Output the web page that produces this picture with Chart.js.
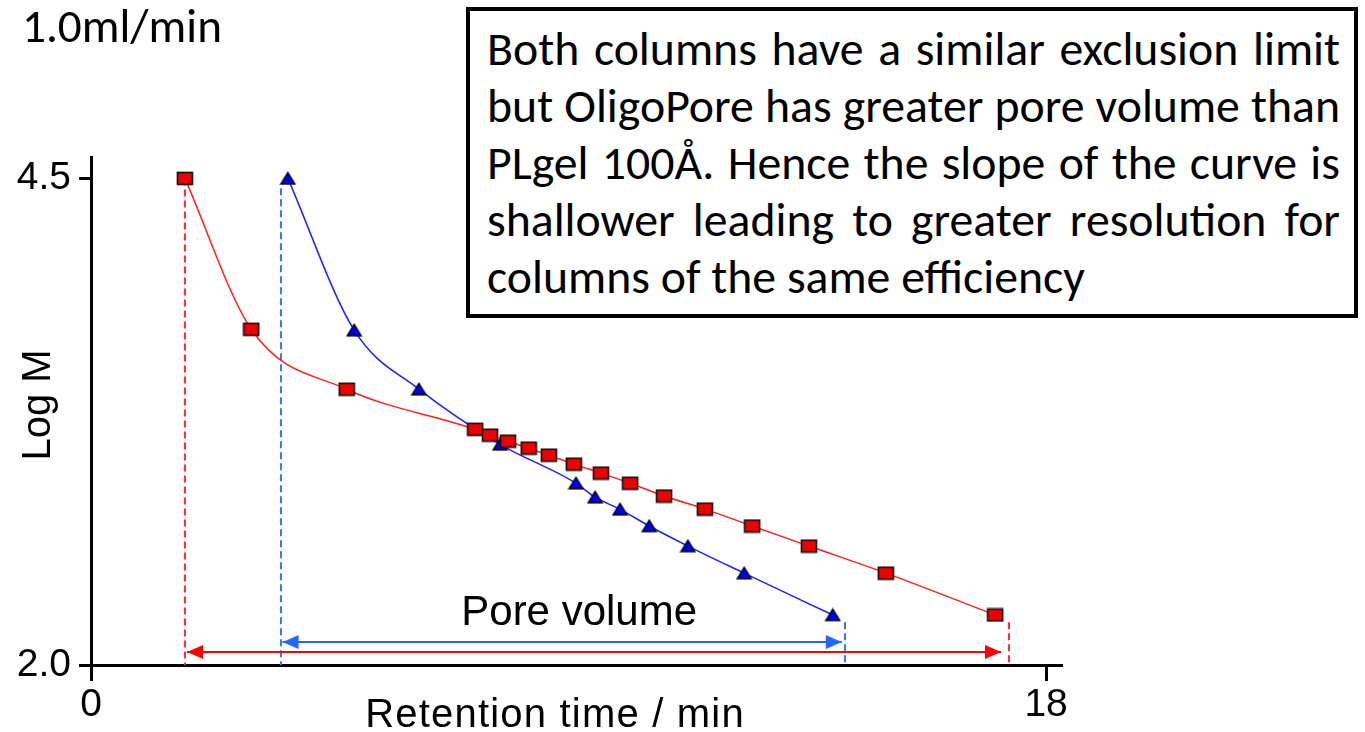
<!DOCTYPE html>
<html>
<head>
<meta charset="utf-8">
<title>Log M vs retention time</title>
<script src="https://cdn.jsdelivr.net/npm/chart.js@4.4.1/dist/chart.umd.min.js"></script>
<style>
  html, body { margin: 0; padding: 0; background: #fff; }
  body { position: relative; width: 1365px; height: 732px; overflow: hidden; }
  #chart { position: absolute; left: 0; top: 0; }
  .calibri { font-family: Carlito, Calibri, Lato, sans-serif; color: #000; }
  #flow { position: absolute; left: 22px; top: 0; white-space: nowrap; line-height: 1; }
  #note {
    position: absolute; left: 466px; top: 7px; width: 892px; height: 311px;
    box-sizing: border-box; border: 4px solid #000; padding: 0 14px 0 17px; background: #fff;
  }
  #note div { text-align: justify; text-align-last: justify; white-space: normal; }
  #note div.last { text-align-last: left; }
</style>
</head>
<body>
<canvas id="chart" width="1365" height="732"></canvas>
<div id="flow" class="calibri">1.0ml/min</div>
<div id="note" class="calibri">
  <div>Both columns have a similar exclusion limit</div>
  <div>but OligoPore has greater pore volume than</div>
  <div>PLgel 100Å. Hence the slope of the curve is</div>
  <div>shallower leading to greater resolution for</div>
  <div class="last">columns of the same efficiency</div>
</div>
<script>
// OligoPore (red squares) and PLgel 100Å (blue triangles) calibration points
const redTime = [1.77, 3.02, 4.82, 7.24, 7.52, 7.86, 8.25, 8.63, 9.10, 9.61, 10.16, 10.80, 11.57, 12.46, 13.53, 14.98, 17.04];
const redLogM = [4.50, 3.725, 3.417, 3.211, 3.181, 3.150, 3.114, 3.078, 3.032, 2.986, 2.934, 2.868, 2.801, 2.714, 2.611, 2.472, 2.257];
const blueTime = [3.71, 4.96, 6.18, 7.71, 9.14, 9.50, 9.97, 10.52, 11.25, 12.31, 13.98];
const blueLogM = [4.50, 3.720, 3.417, 3.134, 2.934, 2.862, 2.800, 2.714, 2.611, 2.472, 2.257];

const xTickValues = [0, 18];
const yTickValues = [2.0, 4.5];

// exclusion limit / total permeation markers (dashed) and pore volume arrows
const redLimits = [1.77, 17.30];
const blueLimits = [3.58, 14.21];
const redLimitTop = [4.50, 2.22];
const blueLimitTop = [4.45, 2.22];
const redArrowX = [1.81, 17.15];
const blueArrowX = [3.61, 14.15];
const redArrowLogM = 2.067;
const blueArrowLogM = 2.118;

const font = "'Liberation Sans', Arial, Helvetica, sans-serif";

// --- text block sizing (Calibri look-alike) ---
const note = document.getElementById('note');
const flow = document.getElementById('flow');
const textFont = getComputedStyle(note).fontFamily;
function measure(text, size) {
  const c = document.createElement('canvas').getContext('2d');
  c.font = size + 'px ' + textFont;
  return c.measureText(text);
}
const lastLine = note.querySelector('.last').textContent;
const noteSize = 100 * 598 / measure(lastLine, 100).width;
const lineH = 57;
const mn = measure(lastLine, noteSize);
note.style.fontSize = noteSize + 'px';
note.style.lineHeight = lineH + 'px';
note.style.paddingTop = (65 - 7 - 4 - (lineH / 2 + (mn.fontBoundingBoxAscent - mn.fontBoundingBoxDescent) / 2)) + 'px';

const flowSize = 100 * 200 / measure('1.0ml/min', 100).width;
const mf = measure('1.0ml/min', flowSize);
flow.style.fontSize = flowSize + 'px';
flow.style.top = (43 - (flowSize / 2 + (mf.fontBoundingBoxAscent - mf.fontBoundingBoxDescent) / 2)) + 'px';

// --- marker images ---
function squareMark() {
  const c = document.createElement('canvas');
  c.width = 18; c.height = 15;
  const g = c.getContext('2d');
  g.fillStyle = '#ee0000';
  g.fillRect(1.5, 1.5, 15, 12);
  g.strokeStyle = '#111'; g.lineWidth = 1.6;
  g.strokeRect(1.5, 1.5, 15, 12);
  return c;
}
function triangleMark() {
  const c = document.createElement('canvas');
  c.width = 17; c.height = 15;
  const g = c.getContext('2d');
  g.beginPath();
  g.moveTo(8.5, 1.5); g.lineTo(15.5, 13); g.lineTo(1.5, 13); g.closePath();
  g.fillStyle = '#0000ee'; g.fill();
  g.strokeStyle = '#000'; g.lineWidth = 1.4; g.stroke();
  return c;
}
// arrow head whose tip sits at the canvas centre
function arrowHead(color, dir) {
  const c = document.createElement('canvas');
  c.width = 34; c.height = 16;
  const g = c.getContext('2d');
  g.beginPath();
  if (dir > 0) { g.moveTo(1, 1); g.lineTo(17, 8); g.lineTo(1, 15); }
  else { g.moveTo(33, 1); g.lineTo(17, 8); g.lineTo(33, 15); }
  g.closePath();
  g.fillStyle = color; g.fill();
  return c;
}

const pts = (xs, ys) => xs.map((x, i) => ({ x, y: ys[i] }));
const vline = (x, top) => [{ x, y: top }, { x, y: 2.0 }];

const labelsPlugin = {
  id: 'labels',
  afterDraw(chart) {
    const { ctx, scales: { x } } = chart;
    ctx.save();
    ctx.fillStyle = '#000';
    ctx.textAlign = 'center';
    ctx.textBaseline = 'alphabetic';
    ctx.font = '42px ' + font;
    ctx.fillText('Pore volume', x.getPixelForValue(9.2), 625);
    ctx.font = '40px ' + font;
    ctx.letterSpacing = '1.2px';
    ctx.fillText('Retention time / min', 555, 727);
    ctx.letterSpacing = '0px';
    ctx.translate(50, 405);
    ctx.rotate(-Math.PI / 2);
    ctx.fillText('Log M', 0, 0);
    ctx.restore();
  }
};

const dashed = (data, color) => ({
  data, showLine: true, borderColor: color, borderWidth: 2, borderDash: [7, 4],
  pointRadius: 0, tension: 0
});

new Chart(document.getElementById('chart'), {
  type: 'scatter',
  data: {
    datasets: [
      {
        label: 'OligoPore', data: pts(redTime, redLogM), showLine: true,
        borderColor: '#ff2020', borderWidth: 1.5, cubicInterpolationMode: 'monotone',
        pointStyle: squareMark(), pointRadius: 7
      },
      {
        label: 'PLgel 100Å', data: pts(blueTime, blueLogM), showLine: true,
        borderColor: '#2020ff', borderWidth: 1.5, cubicInterpolationMode: 'monotone',
        pointStyle: triangleMark(), pointRadius: 7
      },
      {
        data: pts(redArrowX, [redArrowLogM, redArrowLogM]), showLine: true,
        borderColor: '#ff0000', borderWidth: 2, tension: 0,
        pointStyle: [arrowHead('#ff0000', -1), arrowHead('#ff0000', 1)], pointRadius: 7
      },
      {
        data: pts(blueArrowX, [blueArrowLogM, blueArrowLogM]), showLine: true,
        borderColor: '#2266ff', borderWidth: 2, tension: 0,
        pointStyle: [arrowHead('#2266ff', -1), arrowHead('#2266ff', 1)], pointRadius: 7
      },
      dashed(vline(redLimits[0], redLimitTop[0]), '#ff2a2a'),
      dashed(vline(redLimits[1], redLimitTop[1]), '#ff2a2a'),
      dashed(vline(blueLimits[0], blueLimitTop[0]), '#3377ff'),
      dashed(vline(blueLimits[1], blueLimitTop[1]), '#3377ff')
    ]
  },
  options: {
    responsive: false,
    animation: false,
    events: [],
    layout: { padding: { top: 157, right: 303, left: 0, bottom: 0 } },
    plugins: { legend: { display: false }, tooltip: { enabled: false } },
    scales: {
      x: {
        type: 'linear', min: 0, max: 18.3,
        afterBuildTicks: s => { s.ticks = xTickValues.map(v => ({ value: v })); },
        afterFit: s => { s.height = 67; },
        ticks: {
          font: { family: font, size: 39 }, color: '#000', padding: 1,
          maxRotation: 0, autoSkip: false, callback: v => String(v)
        },
        grid: { drawOnChartArea: false, tickLength: 16, tickWidth: 3, tickColor: '#000' },
        border: { color: '#000', width: 3 }
      },
      y: {
        type: 'linear', min: 2.0, max: 4.61,
        afterBuildTicks: s => { s.ticks = yTickValues.map(v => ({ value: v })); },
        afterFit: s => { s.width = 91; },
        ticks: {
          font: { family: font, size: 39 }, color: '#000', padding: 8,
          autoSkip: false, callback: v => v.toFixed(1)
        },
        grid: { drawOnChartArea: false, tickLength: 12, tickWidth: 3, tickColor: '#000' },
        border: { color: '#000', width: 3 }
      }
    }
  },
  plugins: [labelsPlugin]
});
</script>
</body>
</html>
